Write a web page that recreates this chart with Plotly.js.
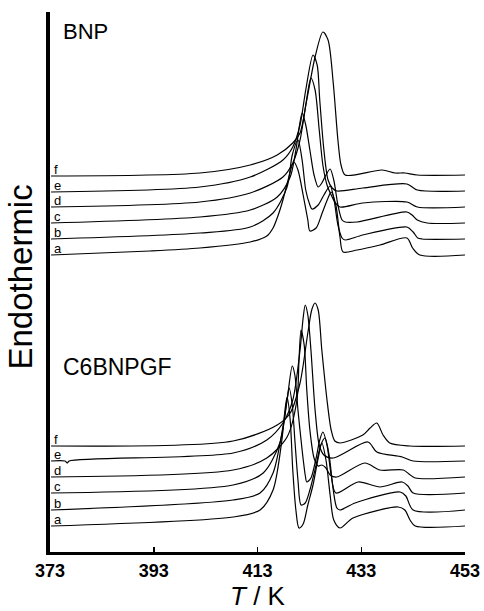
<!DOCTYPE html>
<html>
<head>
<meta charset="utf-8">
<script src="https://cdn.plot.ly/plotly-3.0.1.min.js"></script>
<style>
html,body{margin:0;padding:0;background:#fff;}
#chart{width:484px;height:611px;}
</style>
</head>
<body>
<div id="chart"></div>
<script>
// Temperature axis ticks
const tickValues = [373, 393, 413, 433, 453];
const curveLabels = ['a', 'b', 'c', 'd', 'e', 'f'];

// ---- BNP thermograms (heat flow, arbitrary units, offset stack) ----
const bnp_a_T = [373.2, 392.3, 401.9, 411.6, 414.8, 416.0, 417.0, 417.9, 418.9, 420.0, 420.8, 421.8, 422.7, 423.1, 424.3, 425.4, 426.6, 427.2, 428.1, 428.9, 429.5, 432.2, 436.6, 441.8, 442.9, 444.3, 453];
const bnp_a_Y = [297, 301, 304, 310, 316, 324, 337, 352, 372, 390, 382, 357, 332, 321, 324, 338, 354, 360, 347, 315, 300, 302, 307, 314, 304, 297, 297];

const bnp_b_T = [373.2, 401.9, 411.6, 416.0, 418.7, 419.7, 420.8, 421.6, 422.3, 423.1, 423.5, 424.7, 425.8, 427.0, 427.7, 428.5, 429.3, 429.9, 433.3, 441.8, 443.0, 443.9, 444.7, 453];
const bnp_b_Y = [313, 319, 325, 339, 365, 397, 412, 392, 362, 347, 343, 347, 357, 366, 354, 327, 314, 312, 317, 325, 320, 314, 313, 313];

const bnp_c_T = [373.2, 401.9, 411.6, 416.8, 419.3, 420.4, 421.6, 422.3, 423.1, 423.9, 424.7, 425.4, 426.2, 427.0, 427.7, 428.5, 429.3, 429.9, 432.2, 441.8, 442.8, 443.8, 445.7, 453];
const bnp_c_Y = [329, 335, 342, 355, 375, 402, 439, 427, 402, 377, 365, 369, 377, 383, 372, 347, 332, 330, 330, 340, 337, 332, 329, 329];

const bnp_d_T = [373.2, 401.9, 411.6, 417.9, 419.8, 421.2, 422.3, 423.3, 424.1, 424.9, 425.6, 426.4, 427.2, 427.9, 428.9, 433.3, 441.8, 443.8, 453];
const bnp_d_Y = [345, 350, 359, 375, 389, 412, 447, 474, 462, 422, 387, 367, 357, 350, 345, 349, 350, 345, 345];

const bnp_e_T = [373.2, 401.9, 411.6, 417.9, 419.8, 421.2, 422.3, 423.7, 424.5, 425.0, 425.8, 426.6, 427.4, 428.3, 433.3, 441.8, 443.8, 453];
const bnp_e_Y = [360, 365, 375, 392, 405, 427, 462, 497, 487, 452, 402, 372, 364, 361, 364, 368, 362, 361];

const bnp_f_T = [373.2, 401.9, 411.6, 416.8, 419.8, 421.2, 422.5, 424.1, 425.6, 426.6, 427.6, 428.5, 429.1, 429.9, 437.0, 439.5, 441.4, 443.8, 453];
const bnp_f_Y = [376, 379, 387, 397, 409, 419, 452, 495, 520, 512, 469, 412, 387, 377, 382, 379, 379, 377, 377];

// ---- C6BNPGF thermograms ----
const c6_a_T = [373.2, 408.3, 413.5, 416.0, 417.7, 418.3, 418.7, 419.3, 419.8, 420.4, 421.0, 421.8, 422.7, 423.7, 424.7, 425.4, 426.2, 427.0, 427.7, 428.9, 431.4, 440.1, 441.4, 442.4, 443.4, 453];
const c6_a_Y = [26, 35, 42, 62, 112, 142, 155, 132, 82, 42, 24, 28, 47, 67, 94, 109, 92, 57, 32, 24, 34, 45, 42, 32, 26, 26];

const c6_b_T = [373.2, 408.3, 413.5, 416.0, 417.9, 418.7, 419.1, 419.7, 420.2, 420.8, 421.4, 422.2, 423.1, 424.3, 425.2, 426.0, 426.8, 427.6, 428.3, 428.9, 431.8, 440.5, 441.6, 443.0, 453];
const c6_b_Y = [42, 52, 59, 79, 125, 152, 164, 147, 112, 72, 47, 49, 62, 87, 107, 114, 97, 62, 44, 42, 49, 60, 56, 42, 42];

const c6_c_T = [373.2, 408.3, 414.1, 417.3, 418.7, 419.7, 420.2, 420.8, 421.6, 422.2, 422.5, 423.3, 424.3, 425.0, 425.6, 426.4, 427.2, 428.1, 432.4, 436.6, 440.9, 442.0, 443.0, 453];
const c6_c_Y = [59, 67, 79, 109, 152, 186, 177, 142, 102, 77, 70, 74, 94, 112, 120, 107, 77, 59, 70, 65, 70, 66, 59, 59];

const c6_d_T = [373.2, 408.3, 414.8, 418.7, 420.6, 421.0, 421.4, 422.0, 422.5, 423.1, 423.9, 424.7, 425.4, 426.2, 427.0, 428.3, 433.7, 436.6, 441.1, 442.2, 443.4, 453];
const c6_d_Y = [75, 82, 94, 115, 152, 192, 222, 207, 162, 122, 94, 86, 87, 84, 77, 75, 89, 82, 82, 78, 74, 75];

const c6_e_T = [373.2, 375.9, 376.3, 376.7, 408.3, 414.8, 417.9, 419.8, 421.2, 421.8, 422.2, 422.7, 423.3, 424.1, 424.9, 425.8, 427.6, 434.3, 436.0, 440.9, 443.0, 453];
const c6_e_Y = [91, 91, 89, 91, 99, 112, 129, 152, 202, 234, 247, 237, 202, 142, 107, 97, 94, 110, 100, 95, 91, 91];

const c6_f_T = [373.2, 408.3, 416.8, 419.3, 421.2, 422.7, 423.5, 424.1, 424.7, 425.4, 426.4, 427.2, 427.9, 428.9, 433.3, 434.7, 436.0, 437.2, 438.5, 442.4, 453];
const c6_f_Y = [106, 111, 127, 139, 169, 219, 243, 249, 242, 202, 152, 122, 111, 109, 117, 124, 129, 117, 109, 106, 106];

const bnpSeries = [[bnp_a_T, bnp_a_Y], [bnp_b_T, bnp_b_Y], [bnp_c_T, bnp_c_Y], [bnp_d_T, bnp_d_Y], [bnp_e_T, bnp_e_Y], [bnp_f_T, bnp_f_Y]];
const c6Series = [[c6_a_T, c6_a_Y], [c6_b_T, c6_b_Y], [c6_c_T, c6_c_Y], [c6_d_T, c6_d_Y], [c6_e_T, c6_e_Y], [c6_f_T, c6_f_Y]];

const FONT = 'Liberation Sans, Arial, sans-serif';
const traces = [];
const annotations = [];

function addGroup(series) {
  series.forEach((s, i) => {
    traces.push({
      x: s[0], y: s[1], type: 'scatter', mode: 'lines',
      line: {color: '#000', width: 1.2, shape: 'spline', smoothing: 0.8},
      hoverinfo: 'skip', name: curveLabels[i]
    });
    annotations.push({
      x: s[0][0], y: s[1][0], xref: 'x', yref: 'y',
      text: curveLabels[i], showarrow: false, borderpad: 0,
      xanchor: 'left', yanchor: 'bottom', xshift: 2, yshift: -2,
      font: {family: FONT, size: 13, color: '#000'}
    });
  });
}
addGroup(bnpSeries);
addGroup(c6Series);

annotations.push({
  x: 375.2, y: 521, xref: 'x', yref: 'y', text: 'BNP', showarrow: false,
  xanchor: 'left', yanchor: 'middle', font: {family: FONT, size: 22, color: '#000'}
});
annotations.push({
  x: 375.2, y: 185, xref: 'x', yref: 'y', text: 'C6BNPGF', showarrow: false,
  xanchor: 'left', yanchor: 'middle', font: {family: FONT, size: 23, color: '#000'}
});
annotations.push({
  x: -0.07, y: 0.51, xref: 'paper', yref: 'paper', text: 'Endothermic', showarrow: false,
  textangle: -90, xanchor: 'center', yanchor: 'middle',
  font: {family: FONT, size: 33, color: '#000'}
});

const layout = {
  width: 484, height: 611,
  margin: {l: 50, r: 19, t: 12, b: 59},
  paper_bgcolor: '#fff', plot_bgcolor: '#fff',
  showlegend: false,
  xaxis: {
    range: [373, 453], tickvals: tickValues, ticktext: tickValues.map(String),
    ticks: 'inside', ticklen: 5, tickwidth: 1.5, tickcolor: '#000',
    showgrid: false, zeroline: false, showline: true, linewidth: 3, linecolor: '#000',
    tickfont: {family: FONT, size: 18, color: '#000', weight: 'bold'},
    title: {text: '<i>T</i> / K', font: {family: FONT, size: 26, color: '#000'}, standoff: 4}
  },
  yaxis: {
    range: [0, 540], showticklabels: false, ticks: '',
    showgrid: false, zeroline: false, showline: true, linewidth: 4, linecolor: '#000'
  },
  annotations: annotations
};

Plotly.newPlot('chart', traces, layout, {displayModeBar: false, staticPlot: true});
</script>
</body>
</html>
